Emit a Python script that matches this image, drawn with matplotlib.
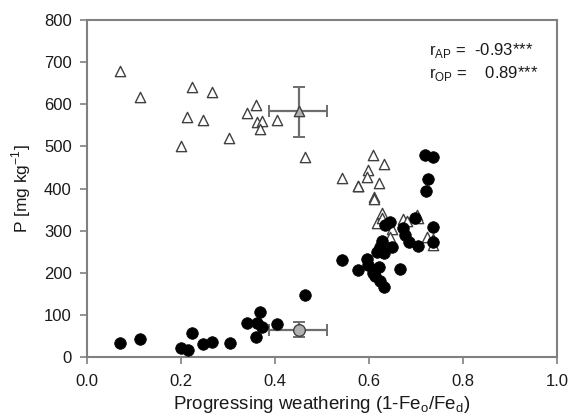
import matplotlib
matplotlib.use("Agg")
import matplotlib.pyplot as plt

plt.rcParams['font.family'] = ['Liberation Sans', 'DejaVu Sans']

# Triangles (A horizon P), open
tri_x = [0.070, 0.113, 0.224, 0.265, 0.213, 0.247, 0.200, 0.303, 0.340, 0.360, 0.361, 0.373,
         0.368, 0.404, 0.464, 0.542, 0.576, 0.608, 0.631, 0.597, 0.595, 0.621, 0.577, 0.610,
         0.610, 0.627, 0.616, 0.627, 0.673, 0.701, 0.648, 0.645, 0.723, 0.735, 0.735, 0.680, 0.705]
tri_y = [680, 617, 640, 629, 571, 563, 500, 520, 580, 598, 559, 561,
         542, 562, 474, 424, 405, 479, 458, 443, 427, 414, 406, 381,
         376, 341, 319, 330, 327, 337, 303, 284, 284, 280, 266, 322, 330]

# Filled circles (O horizon P)
dot_x = [0.070, 0.113, 0.200, 0.214, 0.224, 0.247, 0.265, 0.304, 0.340, 0.360, 0.368, 0.362,
         0.373, 0.404, 0.464, 0.542, 0.576, 0.720, 0.735, 0.725, 0.722, 0.737, 0.735, 0.705,
         0.698, 0.673, 0.677, 0.684, 0.634, 0.645, 0.627, 0.648, 0.623, 0.616, 0.632, 0.595,
         0.598, 0.621, 0.609, 0.613, 0.666, 0.623, 0.631]
dot_y = [33, 42, 22, 16, 56, 30, 36, 33, 80, 48, 106, 80,
         72, 78, 147, 230, 207, 480, 474, 423, 395, 308, 274, 264,
         329, 306, 290, 274, 314, 321, 276, 262, 262, 250, 246, 232,
         218, 214, 199, 192, 208, 180, 165]

# Means with error bars
mean_tri = (0.450, 583)
mean_tri_xerr = ([0.062], [0.061])
mean_tri_yerr = ([60], [57])
mean_dot = (0.450, 65)
mean_dot_xerr = ([0.062], [0.061])
mean_dot_yerr = ([18], [19])

fig = plt.figure(figsize=(5.72, 4.18), dpi=100)
ax = fig.add_axes([0.152, 0.146, 0.822, 0.806])

ecol = '#6e6e6e'
ax.errorbar([mean_tri[0]], [mean_tri[1]], xerr=mean_tri_xerr, yerr=mean_tri_yerr,
            fmt='none', ecolor=ecol, elinewidth=1.6, capsize=4, capthick=1.4, zorder=2)
ax.errorbar([mean_dot[0]], [mean_dot[1]], xerr=mean_dot_xerr, yerr=mean_dot_yerr,
            fmt='none', ecolor=ecol, elinewidth=1.6, capsize=4, capthick=1.4, zorder=2)

ax.scatter(tri_x, tri_y, marker='^', s=55, facecolors='white', edgecolors='#404040',
           linewidths=1.0, zorder=3)
ax.scatter(dot_x, dot_y, marker='o', s=70, facecolors='black', edgecolors='black',
           linewidths=0.5, zorder=4)
ax.scatter([mean_tri[0]], [mean_tri[1]], marker='^', s=55, facecolors='#b0b0b0',
           edgecolors='#404040', linewidths=1.0, zorder=5)
ax.scatter([mean_dot[0]], [mean_dot[1]], marker='o', s=70, facecolors='#b0b0b0',
           edgecolors='#404040', linewidths=1.0, zorder=5)

ax.set_xlim(0, 1.0)
ax.set_ylim(0, 800)
ax.set_xticks([0.0, 0.2, 0.4, 0.6, 0.8, 1.0])
ax.set_xticklabels(['0.0', '0.2', '0.4', '0.6', '0.8', '1.0'])
ax.set_yticks(range(0, 801, 100))

for s in ax.spines.values():
    s.set_color('#808080')
    s.set_linewidth(1.5)
ax.tick_params(axis='both', direction='out', length=5, width=1.2, color='#808080',
               labelsize=12, labelcolor='#1a1a1a')
ax.tick_params(axis='x', pad=7)
ax.tick_params(axis='y', pad=6)
ax.tick_params(top=False, right=False)

ax.set_xlabel('Progressing weathering (1-Fe$_\\mathregular{o}$/Fe$_\\mathregular{d}$)',
              fontsize=13.5, color='#1a1a1a', labelpad=4)
ax.set_ylabel('P [mg kg$^\\mathregular{-1}$]', fontsize=12.5, color='#1a1a1a', labelpad=8)

ax.text(0.727, 0.911, 'r$_\\mathregular{AP}$ =  -0.93***', transform=ax.transAxes,
        fontsize=12, color='#1a1a1a', va='center', ha='left')
ax.text(0.727, 0.840, 'r$_\\mathregular{OP}$ =    0.89***', transform=ax.transAxes,
        fontsize=12, color='#1a1a1a', va='center', ha='left')

fig.savefig('out.png', dpi=100)
